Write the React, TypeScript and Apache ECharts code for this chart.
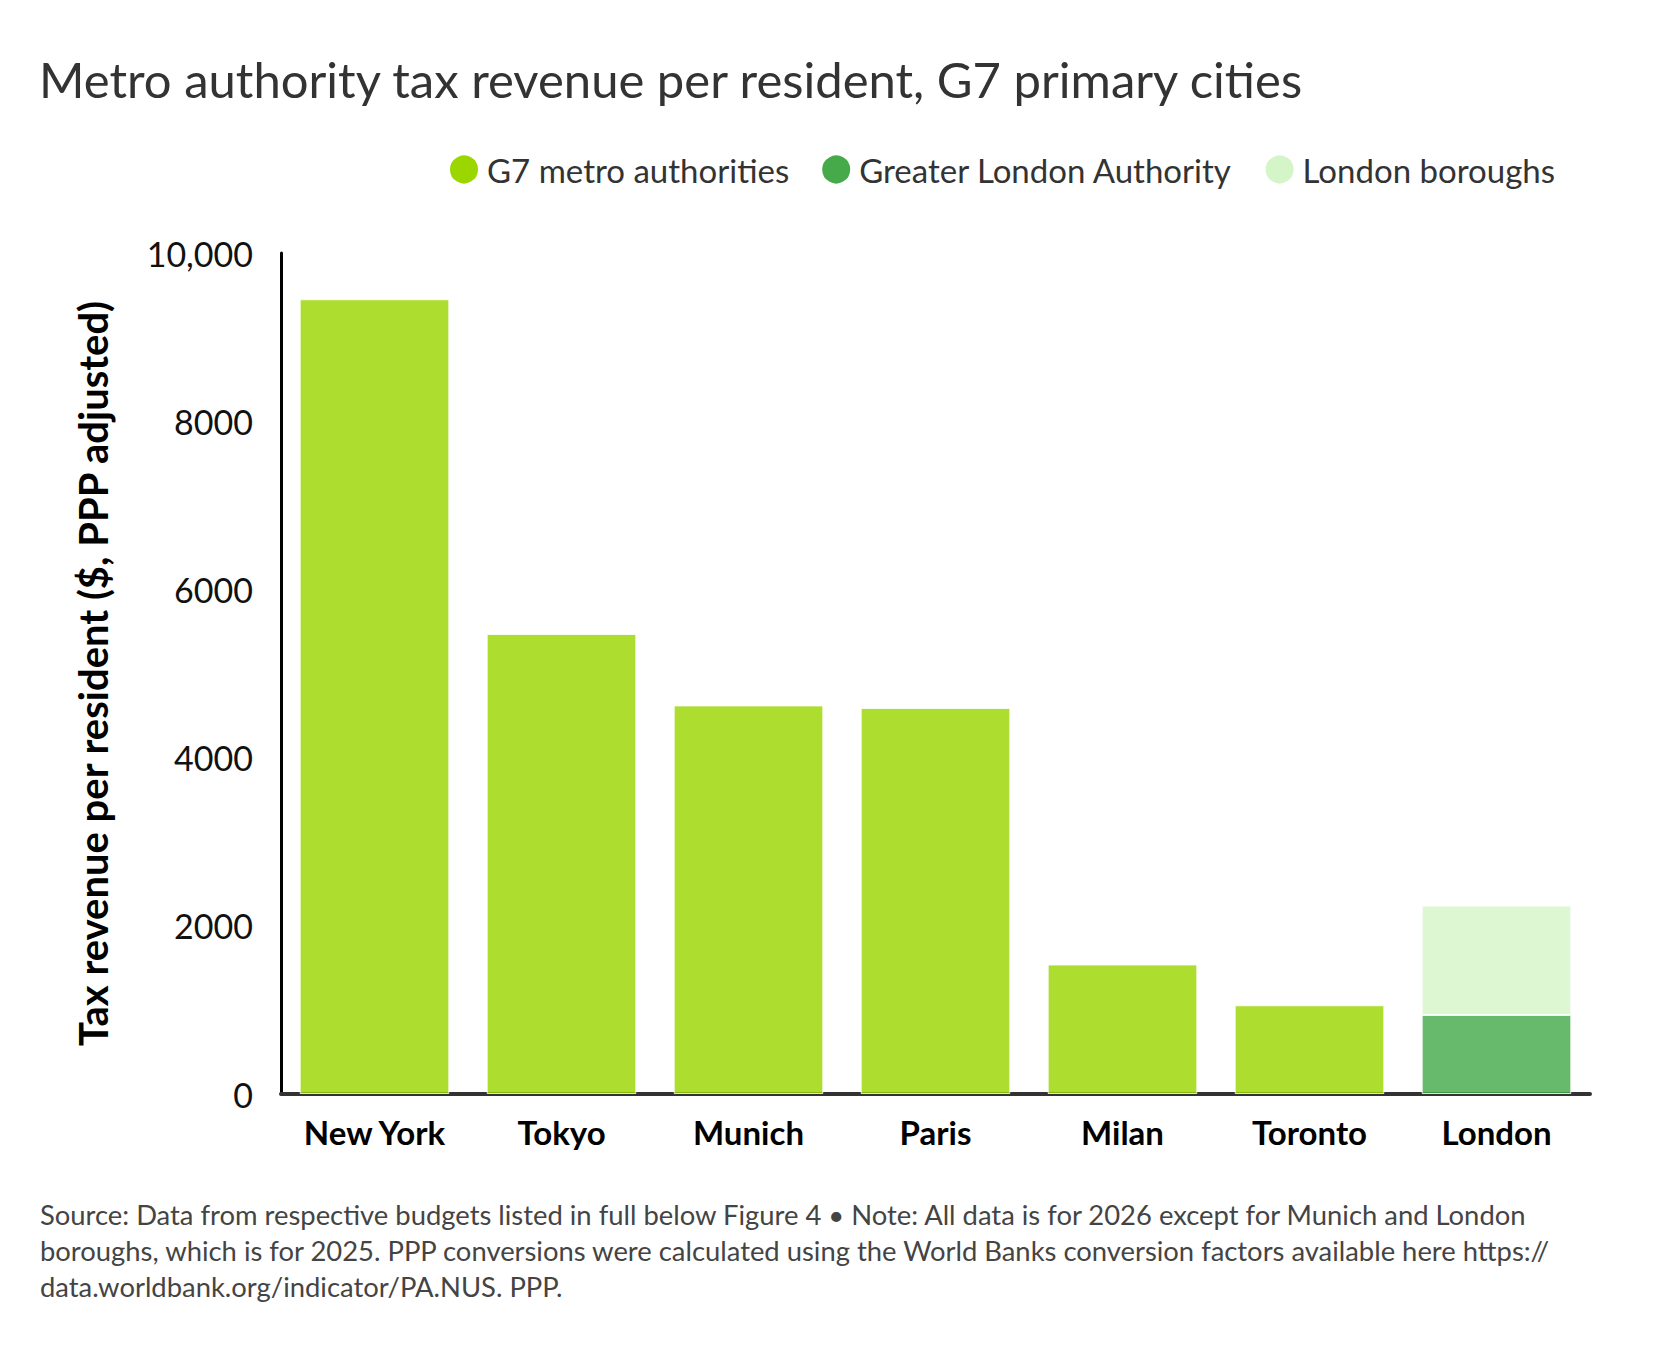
import React, { useEffect, useRef } from 'react';
import * as echarts from 'echarts';

const cities = ['New York', 'Tokyo', 'Munich', 'Paris', 'Milan', 'Toronto', 'London'];
const g7Metro = [9450, 5470, 4620, 4590, 1540, 1055, null];
const greaterLondon = [null, null, null, null, null, null, 940];
const londonBoroughs = [null, null, null, null, null, null, 1300];
const yTicks = [0, 2000, 4000, 6000, 8000, 10000];

const FONT = 'Lato, "Noto Sans", sans-serif';

const footnote = [
  'Source: Data from respective budgets listed in full below Figure 4 \u2022 Note: All data is for 2026 except for Munich and London',
  'boroughs, which is for 2025. PPP conversions were calculated using the World Banks conversion factors available here https://',
  'data.worldbank.org/indicator/PA.NUS. PPP.',
];

const App: React.FC = () => {
  const chartRef = useRef<HTMLDivElement>(null);

  useEffect(() => {
    document.body.style.margin = '0';
    document.body.style.overflow = 'hidden';
    if (!chartRef.current) return;
    const chart = echarts.init(chartRef.current, null, { renderer: 'svg' });

    const barStyle = (color: string) => ({
      color,
      opacity: 0.82,
      borderColor: '#ffffff',
      borderWidth: 1,
    });

    chart.setOption({
      animation: false,
      backgroundColor: '#ffffff',
      textStyle: { fontFamily: FONT },
      title: {
        text: 'Metro authority tax revenue per resident, G7 primary cities',
        left: 34,
        top: 49,
        textStyle: { fontFamily: FONT, fontSize: 49, fontWeight: 'normal', color: '#333333' },
      },
      legend: {
        right: 116,
        top: 148,
        icon: 'circle',
        itemWidth: 30,
        itemHeight: 30,
        itemGap: 31,
        textStyle: { fontFamily: FONT, fontSize: 33, color: '#333333', padding: [0, 0, 0, 3] },
        data: [
          { name: 'G7 metro authorities', itemStyle: { color: '#9bd600', opacity: 1 } },
          { name: 'Greater London Authority', itemStyle: { color: '#46aa4a', opacity: 1 } },
          { name: 'London boroughs', itemStyle: { color: '#d4f5c8', opacity: 1 } },
        ],
      },
      grid: { left: 281, right: 86, top: 253, bottom: 274, containLabel: false },
      xAxis: {
        type: 'category',
        data: cities,
        axisLine: { lineStyle: { color: '#333333', width: 4 } },
        axisTick: { show: false },
        axisLabel: {
          margin: 21,
          fontFamily: FONT,
          fontSize: 33,
          fontWeight: 'bold',
          color: '#000000',
        },
      },
      yAxis: {
        type: 'value',
        min: yTicks[0],
        max: yTicks[yTicks.length - 1],
        interval: 2000,
        name: 'Tax revenue per resident ($, PPP adjusted)',
        nameLocation: 'middle',
        nameGap: 168,
        nameTextStyle: { fontFamily: FONT, fontSize: 40, fontWeight: 'bold', color: '#000000' },
        axisLine: { show: true, lineStyle: { color: '#000000', width: 3 } },
        axisTick: { show: false },
        splitLine: { show: false },
        axisLabel: {
          margin: 28,
          fontFamily: FONT,
          fontSize: 34,
          color: '#111111',
          formatter: (v: number) => (v >= 10000 ? v.toLocaleString('en-US') : String(v)),
        },
      },
      graphic: [
        {
          type: 'text',
          left: 40,
          top: 1196,
          style: {
            text: footnote.join('\n'),
            fontFamily: FONT,
            fontSize: 27.4,
            lineHeight: 36,
            fill: '#444444',
          },
        },
      ],
      series: [
        {
          name: 'G7 metro authorities',
          type: 'bar',
          stack: 'total',
          barCategoryGap: '20%',
          data: g7Metro,
          itemStyle: barStyle('#9bd600'),
        },
        {
          name: 'Greater London Authority',
          type: 'bar',
          stack: 'total',
          data: greaterLondon,
          itemStyle: barStyle('#46aa4a'),
        },
        {
          name: 'London boroughs',
          type: 'bar',
          stack: 'total',
          data: londonBoroughs,
          itemStyle: barStyle('#d4f5c8'),
        },
      ],
    });

    return () => {
      chart.dispose();
    };
  }, []);

  return <div ref={chartRef} style={{ width: '1676px', height: '1368px' }} />;
};

export default App;
